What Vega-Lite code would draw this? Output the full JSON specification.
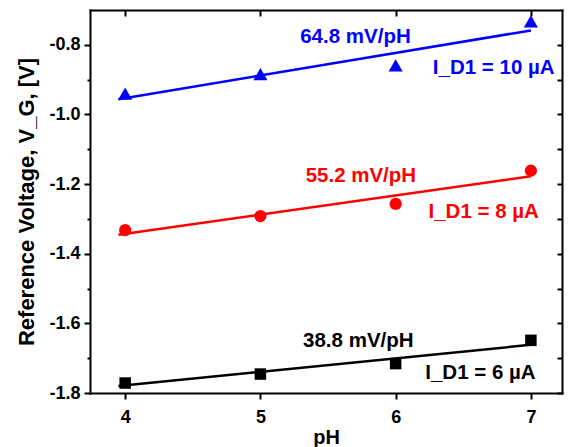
{
  "$schema": "https://vega.github.io/schema/vega-lite/v6.json",
  "width": 472,
  "height": 383,
  "autosize": {"type": "none"},
  "padding": {"left": 90, "top": 10, "right": 7, "bottom": 54},
  "background": "white",
  "config": {
    "view": {"stroke": null},
    "axis": {
      "grid": false,
      "domainColor": "black",
      "domainWidth": 2,
      "domainCap": "square",
      "tickColor": "black",
      "tickWidth": 2,
      "labelFont": "Liberation Sans",
      "labelFontWeight": "bold",
      "labelFontSize": 18,
      "labelColor": "black",
      "labelFlush": false,
      "labelOverlap": false,
      "titleFont": "Liberation Sans",
      "titleFontWeight": "bold",
      "titleColor": "black"
    }
  },
  "datasets": {
    "measured": [
      {"pH": 4, "V": -1.7714, "series": "6 µA"},
      {"pH": 5, "V": -1.7456, "series": "6 µA"},
      {"pH": 6, "V": -1.7156, "series": "6 µA"},
      {"pH": 7, "V": -1.6487, "series": "6 µA"},
      {"pH": 4, "V": -1.332, "series": "8 µA"},
      {"pH": 5, "V": -1.292, "series": "8 µA"},
      {"pH": 6, "V": -1.257, "series": "8 µA"},
      {"pH": 7, "V": -1.1616, "series": "8 µA"},
      {"pH": 4, "V": -0.9404, "series": "10 µA"},
      {"pH": 5, "V": -0.8845, "series": "10 µA"},
      {"pH": 6, "V": -0.8593, "series": "10 µA"},
      {"pH": 7, "V": -0.7327, "series": "10 µA"}
    ],
    "fits": [
      {"pH": 3.95, "V": -1.7799, "series": "6 µA"},
      {"pH": 7.0, "V": -1.6616, "series": "6 µA"},
      {"pH": 3.95, "V": -1.3458, "series": "8 µA"},
      {"pH": 7.0, "V": -1.1774, "series": "8 µA"},
      {"pH": 3.95, "V": -0.9562, "series": "10 µA"},
      {"pH": 7.0, "V": -0.7586, "series": "10 µA"}
    ],
    "notes": [
      {"pH": 5.724, "V": -1.6665, "series": "6 µA", "label": "38.8 mV/pH"},
      {"pH": 6.627, "V": -1.759, "series": "6 µA", "label": "I_D1 = 6 µA"},
      {"pH": 5.743, "V": -1.1937, "series": "8 µA", "label": "55.2 mV/pH"},
      {"pH": 6.651, "V": -1.2986, "series": "8 µA", "label": "I_D1 = 8 µA"},
      {"pH": 5.703, "V": -0.7954, "series": "10 µA", "label": "64.8 mV/pH"},
      {"pH": 6.725, "V": -0.8851, "series": "10 µA", "label": "I_D1 = 10 µA"}
    ]
  },
  "layer": [
    {
      "data": {"name": "fits"},
      "mark": {"type": "line", "strokeWidth": 2.5},
      "encoding": {
        "x": {
          "field": "pH", "type": "quantitative",
          "scale": {"domain": [3.74, 7.23], "nice": false, "zero": false},
          "axis": {"orient": "top", "values": [4, 5, 6, 7], "labels": false, "tickSize": -6, "title": null}
        },
        "y": {
          "field": "V", "type": "quantitative",
          "scale": {"domain": [-1.8, -0.7], "nice": false, "zero": false},
          "axis": {
            "orient": "right",
            "values": [-1.8, -1.7, -1.6, -1.5, -1.4, -1.3, -1.2, -1.1, -1.0, -0.9, -0.8],
            "labels": false, "tickSize": -5, "title": null
          }
        },
        "color": {
          "field": "series", "type": "nominal",
          "scale": {"domain": ["6 µA", "8 µA", "10 µA"], "range": ["#000000", "#ff0000", "#0000ff"]},
          "legend": null
        }
      }
    },
    {
      "data": {"name": "measured"},
      "mark": {"type": "point", "filled": true, "opacity": 1},
      "encoding": {
        "x": {
          "field": "pH", "type": "quantitative",
          "axis": {
            "orient": "bottom", "values": [4, 5, 6, 7], "format": "d",
            "tickSize": 6, "labelPadding": 9,
            "title": "pH", "titleFontSize": 20,
            "titleX": 236, "titleY": 50, "titleAlign": "center", "titleBaseline": "alphabetic"
          }
        },
        "y": {
          "field": "V", "type": "quantitative",
          "axis": {
            "orient": "left",
            "values": [-1.8, -1.7, -1.6, -1.5, -1.4, -1.3, -1.2, -1.1, -1.0, -0.9, -0.8],
            "labelExpr": "abs(round(datum.value * 10)) % 2 == 0 ? (datum.value < 0 ? '-' : '') + format(abs(datum.value), '.1f') : ''",
            "tickSize": {"condition": {"test": "abs(round(datum.value * 10)) % 2 == 0", "value": 6}, "value": 3},
            "labelPadding": 4,
            "title": "Reference Voltage, V_G, [V]",
            "titleFontSize": 22,
            "titleAngle": -90,
            "titleX": -57, "titleY": 191.5, "titleAlign": "center", "titleBaseline": "alphabetic"
          }
        },
        "color": {"field": "series", "type": "nominal", "legend": null},
        "shape": {
          "field": "series", "type": "nominal",
          "scale": {"domain": ["6 µA", "8 µA", "10 µA"], "range": ["square", "circle", "triangle-up"]},
          "legend": null
        },
        "size": {
          "field": "series", "type": "nominal",
          "scale": {"type": "ordinal", "domain": ["6 µA", "8 µA", "10 µA"], "range": [132, 150, 200]},
          "legend": null
        }
      }
    },
    {
      "data": {"name": "notes"},
      "mark": {"type": "text", "font": "Liberation Sans", "fontWeight": "bold", "fontSize": 20.5, "align": "center", "baseline": "alphabetic"},
      "encoding": {
        "x": {"field": "pH", "type": "quantitative", "axis": null},
        "y": {"field": "V", "type": "quantitative", "axis": null},
        "text": {"field": "label"},
        "color": {"field": "series", "type": "nominal", "legend": null}
      }
    }
  ],
  "resolve": {"axis": {"x": "independent", "y": "independent"}}
}
